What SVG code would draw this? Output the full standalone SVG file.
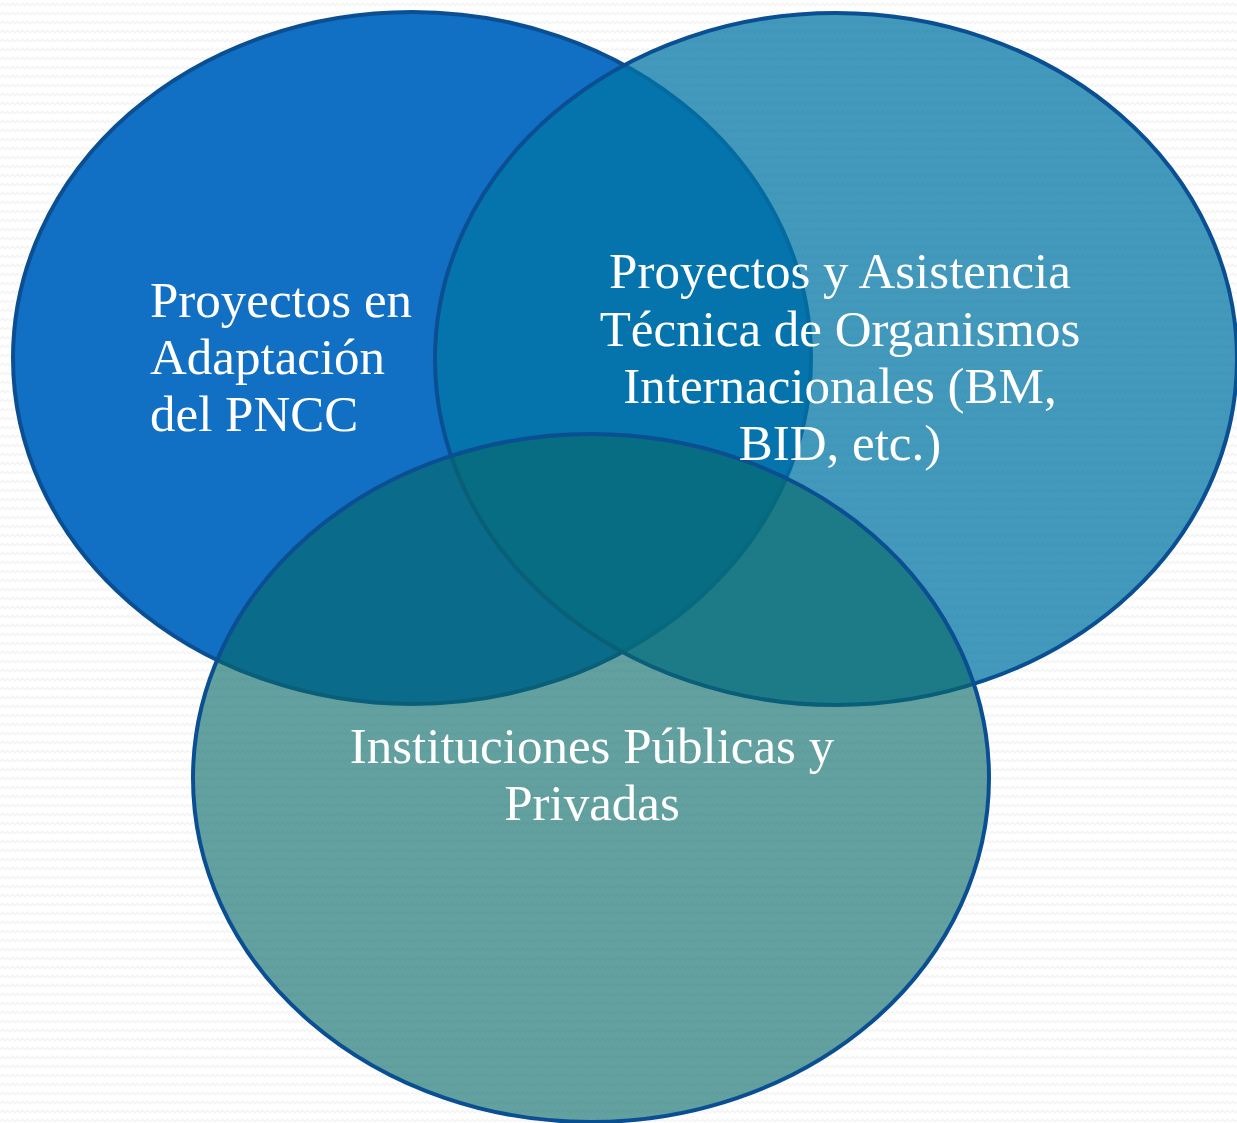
<svg xmlns="http://www.w3.org/2000/svg" width="1237" height="1123" viewBox="0 0 1237 1123">
  <defs>
    <pattern id="zig" width="10" height="9" patternUnits="userSpaceOnUse">
      <polyline points="0,6 2.5,3 5,6 7.5,3 10,6" fill="none" stroke="#f4f4f4" stroke-width="1.4"/>
    </pattern>
  </defs>
  <style>
    .c { stroke: #0B4F93; stroke-width: 4; }
    .t { font-family: "Liberation Serif", "Times New Roman", serif; font-size: 51px; fill: #ffffff; }
    .m { text-anchor: middle; }
  </style>
  <rect width="1237" height="1123" fill="#ffffff"/>
  <rect width="1237" height="1123" fill="url(#zig)"/>
  <g id="node-adaptacion">
    <ellipse class="c" cx="412" cy="358" rx="399" ry="346" fill="#116FC4"/>
  </g>
  <g id="node-organismos">
    <ellipse class="c" cx="836" cy="359" rx="401" ry="346" fill="rgb(1,117,165)" fill-opacity="0.74"/>
  </g>
  <g id="node-instituciones">
    <ellipse class="c" cx="591" cy="778" rx="398" ry="344" fill="rgb(8,104,104)" fill-opacity="0.63"/>
  </g>
  <g id="connectors"></g>
  <g id="labels">
    <text class="t" x="150" y="317">Proyectos en</text>
    <text class="t" x="150" y="374">Adaptación</text>
    <text class="t" x="150" y="431">del PNCC</text>
    <text class="t m" x="840" y="288">Proyectos y Asistencia</text>
    <text class="t m" x="840" y="346">Técnica de Organismos</text>
    <text class="t m" x="840" y="403">Internacionales (BM,</text>
    <text class="t m" x="840" y="460">BID, etc.)</text>
    <text class="t m" x="592" y="763">Instituciones Públicas y</text>
    <text class="t m" x="592" y="820">Privadas</text>
  </g>
</svg>
